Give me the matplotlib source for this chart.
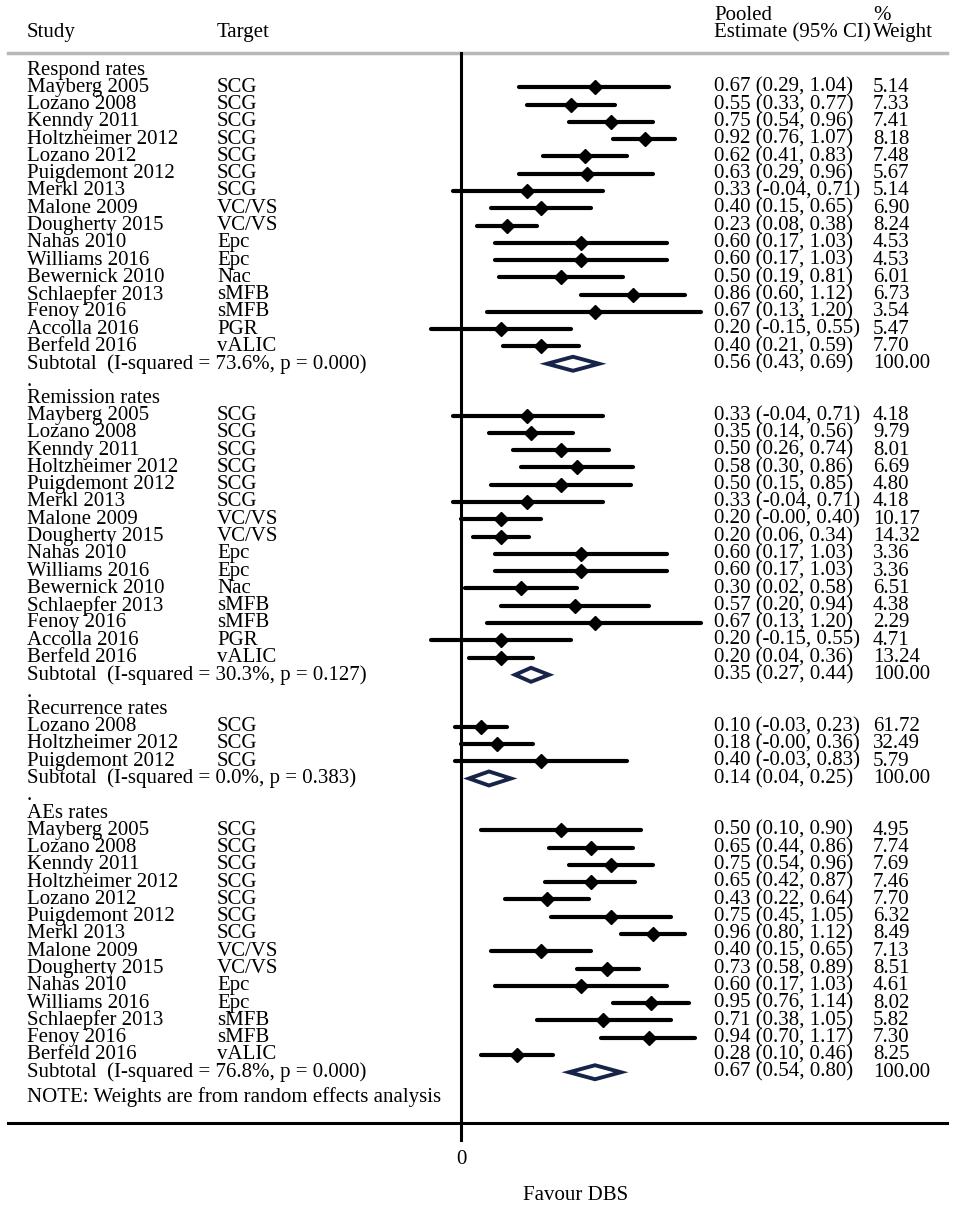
import matplotlib.pyplot as plt
from matplotlib.patches import Polygon

plt.rcParams['font.family'] = ['Liberation Serif', 'DejaVu Serif']

groups = ['Respond rates', 'Remission rates', 'Recurrence rates', 'AEs rates']

respond_study = ['Mayberg 2005', 'Lozano 2008', 'Kenndy 2011', 'Holtzheimer 2012', 'Lozano 2012',
                 'Puigdemont 2012', 'Merkl 2013', 'Malone 2009', 'Dougherty 2015', 'Nahas 2010',
                 'Williams 2016', 'Bewernick 2010', 'Schlaepfer 2013', 'Fenoy 2016', 'Accolla 2016',
                 'Berfeld 2016']
respond_target = ['SCG', 'SCG', 'SCG', 'SCG', 'SCG', 'SCG', 'SCG', 'VC/VS', 'VC/VS', 'Epc', 'Epc',
                  'Nac', 'sMFB', 'sMFB', 'PGR', 'vALIC']
respond_est = [0.67, 0.55, 0.75, 0.92, 0.62, 0.63, 0.33, 0.40, 0.23, 0.60, 0.60, 0.50, 0.86, 0.67, 0.20, 0.40]
respond_lo = [0.29, 0.33, 0.54, 0.76, 0.41, 0.29, -0.04, 0.15, 0.08, 0.17, 0.17, 0.19, 0.60, 0.13, -0.15, 0.21]
respond_hi = [1.04, 0.77, 0.96, 1.07, 0.83, 0.96, 0.71, 0.65, 0.38, 1.03, 1.03, 0.81, 1.12, 1.20, 0.55, 0.59]
respond_wt = [5.14, 7.33, 7.41, 8.18, 7.48, 5.67, 5.14, 6.90, 8.24, 4.53, 4.53, 6.01, 6.73, 3.54, 5.47, 7.70]
respond_sub = [0.56, 0.43, 0.69, '73.6', '0.000']

remission_study = ['Mayberg 2005', 'Lozano 2008', 'Kenndy 2011', 'Holtzheimer 2012', 'Puigdemont 2012',
                   'Merkl 2013', 'Malone 2009', 'Dougherty 2015', 'Nahas 2010', 'Williams 2016',
                   'Bewernick 2010', 'Schlaepfer 2013', 'Fenoy 2016', 'Accolla 2016', 'Berfeld 2016']
remission_target = ['SCG', 'SCG', 'SCG', 'SCG', 'SCG', 'SCG', 'VC/VS', 'VC/VS', 'Epc', 'Epc', 'Nac',
                    'sMFB', 'sMFB', 'PGR', 'vALIC']
remission_est = [0.33, 0.35, 0.50, 0.58, 0.50, 0.33, 0.20, 0.20, 0.60, 0.60, 0.30, 0.57, 0.67, 0.20, 0.20]
remission_lo = [-0.04, 0.14, 0.26, 0.30, 0.15, -0.04, -0.0, 0.06, 0.17, 0.17, 0.02, 0.20, 0.13, -0.15, 0.04]
remission_hi = [0.71, 0.56, 0.74, 0.86, 0.85, 0.71, 0.40, 0.34, 1.03, 1.03, 0.58, 0.94, 1.20, 0.55, 0.36]
remission_wt = [4.18, 9.79, 8.01, 6.69, 4.80, 4.18, 10.17, 14.32, 3.36, 3.36, 6.51, 4.38, 2.29, 4.71, 13.24]
remission_sub = [0.35, 0.27, 0.44, '30.3', '0.127']

recurrence_study = ['Lozano 2008', 'Holtzheimer 2012', 'Puigdemont 2012']
recurrence_target = ['SCG', 'SCG', 'SCG']
recurrence_est = [0.10, 0.18, 0.40]
recurrence_lo = [-0.03, -0.0, -0.03]
recurrence_hi = [0.23, 0.36, 0.83]
recurrence_wt = [61.72, 32.49, 5.79]
recurrence_sub = [0.14, 0.04, 0.25, '0.0', '0.383']

aes_study = ['Mayberg 2005', 'Lozano 2008', 'Kenndy 2011', 'Holtzheimer 2012', 'Lozano 2012',
             'Puigdemont 2012', 'Merkl 2013', 'Malone 2009', 'Dougherty 2015', 'Nahas 2010',
             'Williams 2016', 'Schlaepfer 2013', 'Fenoy 2016', 'Berfeld 2016']
aes_target = ['SCG', 'SCG', 'SCG', 'SCG', 'SCG', 'SCG', 'SCG', 'VC/VS', 'VC/VS', 'Epc', 'Epc',
              'sMFB', 'sMFB', 'vALIC']
aes_est = [0.50, 0.65, 0.75, 0.65, 0.43, 0.75, 0.96, 0.40, 0.73, 0.60, 0.95, 0.71, 0.94, 0.28]
aes_lo = [0.10, 0.44, 0.54, 0.42, 0.22, 0.45, 0.80, 0.15, 0.58, 0.17, 0.76, 0.38, 0.70, 0.10]
aes_hi = [0.90, 0.86, 0.96, 0.87, 0.64, 1.05, 1.12, 0.65, 0.89, 1.03, 1.14, 1.05, 1.17, 0.46]
aes_wt = [4.95, 7.74, 7.69, 7.46, 7.70, 6.32, 8.49, 7.13, 8.51, 4.61, 8.02, 5.82, 7.30, 8.25]
aes_sub = [0.67, 0.54, 0.80, '76.8', '0.000']

group_data = [
    (respond_study, respond_target, respond_est, respond_lo, respond_hi, respond_wt, respond_sub),
    (remission_study, remission_target, remission_est, remission_lo, remission_hi, remission_wt, remission_sub),
    (recurrence_study, recurrence_target, recurrence_est, recurrence_lo, recurrence_hi, recurrence_wt, recurrence_sub),
    (aes_study, aes_target, aes_est, aes_lo, aes_hi, aes_wt, aes_sub),
]

# layout (pixels), x axis in effect units
W, H = 957, 1213
ZERO_PX, SCALE = 461, 200.0
ROW0, STEP = 70, 17.28
FS = 15
NAVY = '#17244a'


def xd(px):
    return (px - ZERO_PX) / SCALE


fig = plt.figure(figsize=(W / 100, H / 100), dpi=100)
ax = fig.add_axes([0, 0, 1, 1])
ax.set_xlim(xd(0), xd(W))
ax.set_ylim(H, 0)
ax.axis('off')

x_study, x_target, x_est, x_wt = xd(27), xd(217), xd(714), xd(873)

# header
ax.text(x_study, 33, 'Study', fontsize=FS, va='center')
ax.text(x_target, 33, 'Target', fontsize=FS, va='center')
ax.text(x_est, 15, 'Pooled', fontsize=FS, va='center')
ax.text(x_est, 33, 'Estimate (95% CI)', fontsize=FS, va='center')
ax.text(x_wt, 15, '%', fontsize=FS, va='center')
ax.text(x_wt, 33, 'Weight', fontsize=FS, va='center')
ax.plot([xd(8), xd(947)], [53, 53], color='#b8b8b8', lw=2.5)

row = 0
for gi, (name, (study, target, est, lo, hi, wt, sub)) in enumerate(zip(groups, group_data)):
    if gi > 0:
        ax.text(x_study, ROW0 + STEP * row, '.', fontsize=FS, va='center')
        row += 1
    ax.text(x_study, ROW0 + STEP * row, name, fontsize=FS, va='center')
    row += 1
    for s, t, e, l, h, w in zip(study, target, est, lo, hi, wt):
        y = ROW0 + STEP * row
        ax.text(x_study, y, s, fontsize=FS, va='center')
        ax.text(x_target, y, t, fontsize=FS, va='center')
        ax.plot([l, h], [y, y], color='black', lw=3, solid_capstyle='round', zorder=3)
        ax.plot(e, y, marker='D', color='black', ms=7, zorder=4)
        ax.text(x_est, y, f'{e:.2f} ({l:.2f}, {h:.2f})', fontsize=FS, va='center')
        ax.text(x_wt, y, f'{w:.2f}', fontsize=FS, va='center')
        row += 1
    y = ROW0 + STEP * row
    e, l, h, i2, p = sub
    ax.text(x_study, y, f'Subtotal  (I-squared = {i2}%, p = {p})', fontsize=FS, va='center')
    ax.add_patch(Polygon([(l, y), (e, y - 7), (h, y), (e, y + 7)], closed=True, fill=False,
                         edgecolor=NAVY, lw=2.8, zorder=4))
    ax.text(x_est, y, f'{e:.2f} ({l:.2f}, {h:.2f})', fontsize=FS, va='center')
    ax.text(x_wt, y, '100.00', fontsize=FS, va='center')
    row += 1

ax.text(x_study, ROW0 + STEP * row + 8, 'NOTE: Weights are from random effects analysis',
        fontsize=FS, va='center')

# zero line, bottom axis
ax.plot([0, 0], [53, 1140], color='black', lw=2.2)
ax.plot([xd(8), xd(947)], [1123, 1123], color='black', lw=2.2)
ax.text(0, 1160, '0', fontsize=FS, ha='center', va='center')
ax.text(xd(576), 1196, 'Favour DBS', fontsize=FS, ha='center', va='center')

fig.savefig('out.png', dpi=100)
